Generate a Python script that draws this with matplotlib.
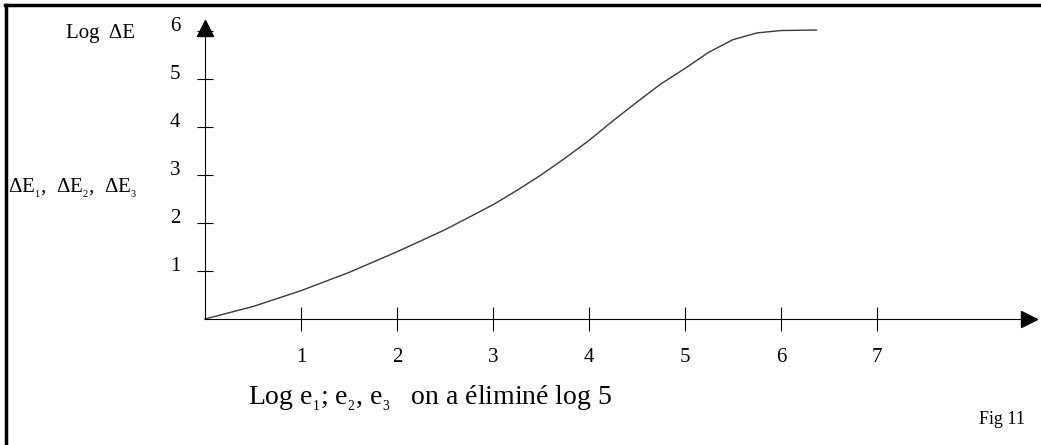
import numpy as np
import matplotlib
matplotlib.use('Agg')
import matplotlib.pyplot as plt
from matplotlib.lines import Line2D

plt.rcParams['font.family'] = ['Liberation Serif', 'DejaVu Serif']
plt.rcParams['mathtext.fontset'] = 'custom'
plt.rcParams['mathtext.rm'] = 'Liberation Serif'
plt.rcParams['mathtext.it'] = 'Liberation Serif:italic'

# courbe (log e en abscisse, log dE en ordonnee)
log_e = [0, 0.5, 1, 1.5, 2, 2.5, 3, 3.25, 3.5, 3.75, 4, 4.25, 4.5, 4.75,
         5, 5.25, 5.5, 5.75, 6, 6.37]
log_dE = [0, 0.26, 0.59, 0.97, 1.40, 1.86, 2.38, 2.68, 3.0, 3.35, 3.72, 4.13,
          4.52, 4.9, 5.22, 5.56, 5.82, 5.96, 6.01, 6.02]

x_ticks = [1, 2, 3, 4, 5, 6, 7]
y_ticks = [1, 2, 3, 4, 5, 6]
x_end = 8.58  # fin de l'axe x (fleche)
y_end = 6.06  # fin de l'axe y

W, H = 1041, 445
fig = plt.figure(figsize=(W / 100, H / 100), dpi=100)
ax = fig.add_axes([0, 0, 1, 1])
# origine a (205, 319) px, 96 px par unite en x, 48 px par unite en y
ax.set_xlim(-205 / 96, (W - 205) / 96)
ax.set_ylim(-(H - 319) / 48, 319 / 48)
ax.patch.set_visible(False)

for s in ['top', 'right']:
    ax.spines[s].set_visible(False)
ax.spines['left'].set_position(('data', 0))
ax.spines['bottom'].set_position(('data', 0))
ax.spines['left'].set_bounds(0, y_end)
ax.spines['bottom'].set_bounds(0, x_end)
ax.spines['left'].set_linewidth(0.8)
ax.spines['bottom'].set_linewidth(0.8)

ax.set_xticks(x_ticks)
ax.set_yticks(y_ticks)
ax.set_xticklabels([])
ax.set_yticklabels([])
ax.tick_params(axis='x', direction='inout', length=17, width=0.8)
ax.tick_params(axis='y', direction='inout', length=12, width=0.8)

# fleches
ax.plot(x_end, 0, marker='>', ms=11, color='black', clip_on=False)
ax.plot(0, y_end, marker='^', ms=11, color='black', clip_on=False)

# etiquettes des graduations
for t in x_ticks:
    ax.text(t, -0.8, str(t), ha='center', va='center', fontsize=15)
for t in y_ticks:
    ax.text(-0.31, t + 0.1, str(t), ha='center', va='center', fontsize=15)

ax.plot(log_e, log_dE, color='#3a3a3a', lw=1.0)

ax.text(-1.09, 5.94, 'Log  ΔE', ha='center', va='center', fontsize=15)
ax.text(-2.05, 2.72, r'ΔE$_{_1}$,  ΔE$_{_2}$,  ΔE$_{_3}$', ha='left', va='center', fontsize=15)
ax.text(0.45, -1.64, r'Log e$_{_1}$; e$_{_2}$, e$_{_3}$   on a éliminé log 5',
        ha='left', va='center', fontsize=20)
ax.text(8.3, -2.1, 'Fig 11', ha='center', va='center', fontsize=13)

# cadre (haut et gauche)
fig.add_artist(Line2D([5 / W, 1], [1 - 5 / H, 1 - 5 / H], color='black', lw=2.5))
fig.add_artist(Line2D([6 / W, 6 / W], [0, 1 - 5 / H], color='black', lw=2.5))

fig.savefig('out.png', dpi=100)
